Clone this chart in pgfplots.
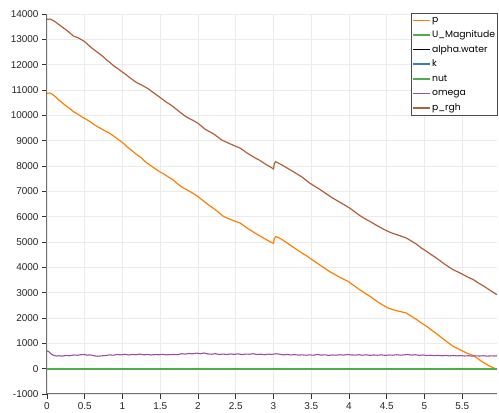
\documentclass[border=0pt]{standalone}
\usepackage{fontspec}
\setmainfont{Liberation Sans}
\newfontfamily\legfont{Poppins}
\usepackage{pgfplots}
\pgfplotsset{compat=1.18}
\definecolor{cP}{HTML}{FF7F00}
\definecolor{cG}{HTML}{4DAF4A}
\definecolor{cB}{HTML}{377EB8}
\definecolor{cV}{HTML}{984EA3}
\definecolor{cR}{HTML}{B0603A}
\definecolor{gridc}{HTML}{EBEBEB}
\definecolor{axc}{HTML}{707070}
\begin{document}
\begin{tikzpicture}
\begin{axis}[
  scale only axis, width=450bp, height=380bp,
  xmin=0, xmax=5.96, ymin=-1000, ymax=14000,
  axis lines=left,
  axis line style={-, draw=axc, line width=1bp},
  xtick={0,0.5,...,5.5},
  xticklabels={0,0.5,1,1.5,2,2.5,3,3.5,4,4.5,5,5.5},
  ytick={-1000,0,...,14000},
  scaled y ticks=false,
  yticklabel style={/pgf/number format/.cd,1000 sep={},assume math mode=true},
  tick label style={font=\fontsize{10}{12}\selectfont, text=black!85},
  tick align=outside,
  major tick length=5bp,
  tick style={draw=black!80, line width=0.8bp},
  grid=major,
  major grid style={draw=gridc, line width=0.7bp},
  clip=false,
  legend cell align=left,
  legend style={at={(1,1)}, anchor=north east, xshift=1bp, yshift=1bp,
    draw=black!70, line width=0.7bp, font=\legfont\fontsize{9.3}{11}\selectfont,
    inner sep=1.5bp, row sep=3.4bp,
    nodes={inner sep=1bp, text height=7bp, text depth=2.2bp}},
  legend image code/.code={\draw[#1, line width=1.5bp] (0bp,0bp) -- (17bp,0bp);},
]
\addplot[cP, line width=1.2bp] coordinates {
(0,10871)(0.04,10880)(0.07,10830)(0.11,10740)(0.15,10620)(0.20,10500)(0.25,10380)(0.30,10270)(0.35,10146)(0.40,10060)(0.45,9960)(0.51,9860)(0.57,9752)(0.63,9620)(0.70,9500)(0.76,9400)(0.83,9294)(0.88,9190)(0.92,9100)(0.97,8990)(1.01,8900)(1.06,8760)(1.12,8620)(1.18,8470)(1.25,8320)(1.30,8170)(1.36,8044)(1.43,7900)(1.50,7760)(1.54,7700)(1.58,7620)(1.62,7540)(1.67,7453)(1.72,7320)(1.78,7180)(1.84,7080)(1.90,6980)(1.95,6890)(2.00,6794)(2.06,6650)(2.12,6510)(2.17,6400)(2.22,6300)(2.28,6150)(2.34,6006)(2.40,5930)(2.45,5870)(2.50,5810)(2.56,5745)(2.61,5640)(2.66,5530)(2.71,5440)(2.75,5360)(2.82,5240)(2.86,5170)(2.90,5100)(2.96,5000)(3.00,4950)(3.01,5130)(3.03,5217)(3.06,5180)(3.10,5120)(3.18,4960)(3.26,4800)(3.32,4680)(3.38,4560)(3.43,4470)(3.48,4365)(3.54,4240)(3.60,4120)(3.68,3960)(3.75,3820)(3.81,3720)(3.87,3620)(3.93,3530)(3.99,3443)(4.07,3270)(4.15,3100)(4.21,2980)(4.28,2851)(4.34,2720)(4.40,2600)(4.46,2490)(4.52,2393)(4.58,2330)(4.64,2280)(4.70,2240)(4.76,2196)(4.83,2060)(4.90,1930)(4.96,1800)(5.03,1668)(5.09,1530)(5.15,1400)(5.21,1260)(5.27,1120)(5.33,990)(5.38,879)(5.44,790)(5.50,700)(5.57,600)(5.65,513)(5.70,410)(5.75,300)(5.80,210)(5.85,120)(5.91,40)(5.96,-39)
};
\addlegendentry{p}
\addplot[cG, line width=2bp] coordinates {(0,0)(5.96,0)};
\addlegendentry{U\_Magnitude}
\addplot[black, line width=1.2bp] coordinates {(0,1)(5.96,1)};
\addlegendentry{alpha.water}
\addplot[cB, line width=1.2bp] coordinates {(0,0)(5.96,0)};
\addlegendentry{k}
\addplot[cG, line width=2bp] coordinates {(0,0)(5.96,0)};
\addlegendentry{nut}
\addplot[cV, line width=1.1bp] coordinates {
(0,700)(0.02,680)(0.04,620)(0.06,570)(0.08,540)(0.10,515)(0.13,500)(0.16,510)(0.20,495)(0.25,520)(0.30,510)(0.35,540)(0.40,530)(0.45,550)(0.50,560)(0.53,530)(0.57,545)(0.62,510)(0.67,490)(0.72,505)(0.78,520)(0.83,545)(0.88,530)(0.93,560)(0.98,545)(1.03,570)(1.08,540)(1.13,560)(1.18,550)(1.23,575)(1.28,545)(1.33,560)(1.38,540)(1.43,555)(1.48,550)(1.53,565)(1.58,545)(1.63,555)(1.68,560)(1.73,550)(1.78,590)(1.83,575)(1.88,600)(1.93,585)(1.98,615)(2.03,590)(2.08,620)(2.13,580)(2.18,570)(2.23,590)(2.28,560)(2.33,575)(2.38,560)(2.43,580)(2.48,565)(2.53,585)(2.58,555)(2.63,575)(2.68,570)(2.73,590)(2.78,560)(2.83,570)(2.88,550)(2.93,575)(2.98,560)(3.03,590)(3.08,570)(3.13,545)(3.18,560)(3.23,540)(3.28,555)(3.33,535)(3.38,545)(3.43,530)(3.48,545)(3.53,530)(3.58,560)(3.63,535)(3.68,545)(3.73,525)(3.78,540)(3.83,530)(3.88,550)(3.93,535)(3.98,560)(4.03,540)(4.08,535)(4.13,550)(4.18,530)(4.23,545)(4.28,525)(4.33,540)(4.38,530)(4.43,545)(4.48,525)(4.53,540)(4.58,530)(4.63,550)(4.68,530)(4.73,545)(4.78,560)(4.83,535)(4.88,550)(4.93,525)(4.98,540)(5.03,520)(5.08,530)(5.13,515)(5.18,525)(5.23,510)(5.28,525)(5.33,505)(5.38,520)(5.43,505)(5.48,515)(5.53,500)(5.58,510)(5.63,495)(5.68,505)(5.73,500)(5.78,510)(5.83,495)(5.88,505)(5.93,500)(5.96,510)
};
\addlegendentry{omega}
\addplot[cR, line width=1.2bp] coordinates {
(0,13790)(0.04,13800)(0.07,13760)(0.11,13690)(0.15,13600)(0.20,13490)(0.25,13380)(0.30,13260)(0.35,13130)(0.42,13050)(0.46,12980)(0.50,12906)(0.55,12770)(0.60,12640)(0.65,12530)(0.70,12420)(0.75,12300)(0.79,12185)(0.84,12070)(0.88,11960)(0.94,11840)(0.99,11723)(1.05,11600)(1.10,11480)(1.15,11370)(1.20,11270)(1.25,11200)(1.30,11120)(1.35,11030)(1.39,10935)(1.45,10810)(1.50,10700)(1.54,10610)(1.58,10520)(1.63,10430)(1.67,10343)(1.73,10200)(1.78,10080)(1.83,9970)(1.88,9880)(1.94,9790)(2.00,9688)(2.05,9560)(2.10,9440)(2.15,9360)(2.20,9280)(2.26,9150)(2.31,9030)(2.37,8950)(2.42,8880)(2.49,8790)(2.56,8703)(2.61,8600)(2.65,8510)(2.70,8420)(2.75,8330)(2.82,8220)(2.86,8140)(2.90,8060)(2.96,7960)(3.00,7880)(3.01,8090)(3.03,8170)(3.06,8120)(3.10,8060)(3.18,7920)(3.26,7780)(3.32,7670)(3.38,7560)(3.43,7440)(3.48,7322)(3.54,7210)(3.60,7100)(3.66,6980)(3.72,6860)(3.78,6740)(3.85,6620)(3.93,6480)(4.01,6337)(4.08,6180)(4.15,6030)(4.21,5920)(4.28,5808)(4.34,5700)(4.40,5600)(4.46,5500)(4.52,5414)(4.58,5340)(4.64,5280)(4.70,5220)(4.76,5154)(4.83,5030)(4.90,4900)(4.96,4760)(5.03,4625)(5.09,4500)(5.15,4380)(5.21,4250)(5.27,4120)(5.33,4000)(5.38,3904)(5.44,3820)(5.50,3730)(5.57,3620)(5.65,3509)(5.72,3370)(5.80,3230)(5.85,3130)(5.90,3030)(5.96,2918)
};
\addlegendentry{p\_rgh}
\end{axis}
\path (current axis.south west) ++(-47bp,-14bp) rectangle ([shift={(2bp,14bp)}]current axis.north east);
\end{tikzpicture}
\end{document}
